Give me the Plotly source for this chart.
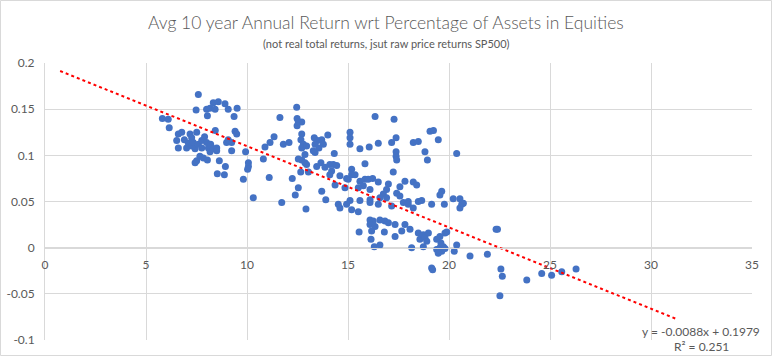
import plotly.graph_objects as go

# Percentage of assets in equities (x) vs avg 10-year annual return (y)
equity_pct = [
    5.81, 6.10, 6.15, 6.52, 6.60, 6.60, 6.77, 6.90, 7.01, 7.10, 7.18, 7.26, 7.26, 7.34, 7.43, 7.43,
    7.48, 7.51, 7.51, 7.59, 7.59, 7.67, 7.76, 7.76, 7.84, 7.90, 8.00, 8.00, 8.04, 8.04, 8.09, 8.17,
    8.17, 8.20, 8.33, 8.33, 8.42, 8.43, 8.50, 8.50, 8.53, 8.58, 8.63, 8.88, 8.91, 8.93, 8.99, 9.07,
    9.07, 9.24, 9.24, 9.36, 9.41, 9.51, 9.49, 9.82, 9.93, 10.07, 10.07, 10.03,
    10.31, 10.81, 10.89, 11.10, 11.14, 11.34, 11.63, 11.72, 11.80, 12.08, 12.24, 12.39, 12.46, 12.48,
    12.54, 12.71, 12.48, 12.71, 12.67, 12.79, 12.71, 12.95, 12.87, 12.54, 12.71, 12.87, 12.95, 12.66,
    13.04, 12.54, 12.92, 13.33, 13.50, 13.70, 13.78, 13.37, 13.56, 13.37, 14.00, 13.28, 14.32, 13.45,
    13.66, 13.86, 14.10, 14.27, 14.44, 14.19, 14.10, 14.60, 14.93, 15.10, 15.10, 15.10, 15.18, 15.01,
    14.36, 14.85, 13.70, 13.90, 15.10, 14.93, 14.52, 14.60, 15.18, 15.51,
    15.59, 16.05, 16.34, 16.50, 17.16, 17.38, 17.28, 17.38, 17.38, 17.41, 17.24, 15.84, 15.18, 15.35,
    18.23, 18.48, 18.81, 18.93, 19.06, 19.23, 19.47, 20.38,
    15.59, 15.84, 16.00, 16.22, 15.76, 15.51, 16.09, 16.50, 17.00, 16.91, 17.57, 17.82, 18.23, 18.40,
    17.41, 17.57, 16.75, 16.58, 16.91, 16.09, 15.59, 17.98, 18.48, 18.65, 19.64, 19.55, 20.21, 20.54,
    20.63, 20.54, 20.71, 19.77,
    16.09, 16.50, 17.16, 17.74, 17.98, 18.23, 19.14,
    16.09, 16.25, 16.09, 16.34, 16.58, 16.17, 16.83, 17.00, 17.33, 17.82, 16.80, 17.33, 17.66, 18.07,
    18.48, 18.56, 18.73, 18.81, 18.90, 18.98, 19.39, 19.55, 19.80, 19.89, 16.14, 16.30, 16.58, 15.55,
    18.15, 18.73, 19.39, 19.55, 19.64, 19.72, 19.47, 20.26, 20.38, 19.60, 19.80, 19.14, 19.19,
    21.04, 21.90, 22.33, 22.40, 22.57, 22.64, 22.52, 23.85, 24.59, 25.08, 25.58, 26.29,
]
avg_return = [
    0.140, 0.139, 0.130, 0.116, 0.123, 0.108, 0.125, 0.117, 0.108, 0.113, 0.123, 0.119, 0.110, 0.114, 0.107, 0.092,
    0.149, 0.125, 0.094, 0.166, 0.112, 0.099, 0.116, 0.108, 0.097, 0.120, 0.150, 0.114, 0.143, 0.095, 0.108, 0.151,
    0.104, 0.112, 0.157, 0.107, 0.150, 0.127, 0.108, 0.105, 0.080, 0.158, 0.094, 0.079, 0.156, 0.088, 0.114, 0.150,
    0.117, 0.114, 0.105, 0.142, 0.126, 0.151, 0.123, 0.074, 0.104, 0.092, 0.088, 0.085,
    0.054, 0.096, 0.109, 0.076, 0.114, 0.120, 0.141, 0.049, 0.112, 0.114, 0.075, 0.057, 0.152, 0.140,
    0.136, 0.136, 0.132, 0.123, 0.117, 0.112, 0.108, 0.110, 0.101, 0.096, 0.095, 0.092, 0.090, 0.082,
    0.082, 0.065, 0.042, 0.119, 0.116, 0.117, 0.112, 0.112, 0.108, 0.103, 0.122, 0.105, 0.102, 0.088,
    0.092, 0.087, 0.090, 0.090, 0.089, 0.083, 0.079, 0.078, 0.075, 0.125, 0.119, 0.112, 0.085, 0.074,
    0.068, 0.065, 0.061, 0.052, 0.051, 0.047, 0.047, 0.043, 0.041, 0.039,
    0.107, 0.109, 0.142, 0.113, 0.114, 0.119, 0.139, 0.104, 0.099, 0.095, 0.082, 0.091, 0.079, 0.079,
    0.114, 0.115, 0.104, 0.095, 0.126, 0.127, 0.117, 0.102,
    0.072, 0.074, 0.074, 0.075, 0.067, 0.065, 0.063, 0.071, 0.069, 0.063, 0.066, 0.072, 0.071, 0.068,
    0.059, 0.056, 0.058, 0.054, 0.054, 0.052, 0.051, 0.050, 0.050, 0.051, 0.061, 0.057, 0.053, 0.053,
    0.047, 0.043, 0.048, 0.047,
    0.049, 0.047, 0.045, 0.049, 0.047, 0.043, 0.047,
    0.030, 0.029, 0.025, 0.023, 0.030, 0.018, 0.029, 0.027, 0.025, 0.025, 0.017, 0.012, 0.018, 0.020,
    0.016, 0.009, 0.014, 0.011, 0.007, 0.016, 0.009, 0.012, 0.016, 0.017, 0.009, 0.001, 0.003, 0.017,
    0.000, 0.001, -0.002, 0.000, -0.004, 0.001, -0.006, -0.004, 0.003, 0.005, -0.001, -0.022, -0.024,
    -0.009, -0.007, 0.020, 0.020, -0.023, -0.031, -0.052, -0.035, -0.028, -0.030, -0.026, -0.023,
]

# Linear trendline (as displayed on chart) and its drawn x extent
trend_slope = -0.0088
trend_intercept = 0.1979
trend_x = [0.75, 31.2]
trend_y = [trend_slope * v + trend_intercept for v in trend_x]

x_tickvals = [0, 5, 10, 15, 20, 25, 30, 35]
x_ticktext = ["0", "5", "10", "15", "20", "25", "30", "35"]
y_tickvals = [-0.1, -0.05, 0, 0.05, 0.1, 0.15, 0.2]
y_ticktext = ["-0.1", "-0.05", "0", "0.05", "0.1", "0.15", "0.2"]

title_text = "Avg 10 year Annual Return wrt Percentage of Assets in Equities"
subtitle_text = "(not real total returns, jsut raw price returns SP500)"
eq_text = "y = -0.0088x + 0.1979"
r2_text = "R² = 0.251"

FONT = "Lato"
GRAY = "#595959"
GRID = "#D9D9D9"

fig = go.Figure()
fig.add_trace(go.Scatter(
    x=equity_pct, y=avg_return, mode="markers",
    marker=dict(color="#4472C4", size=7, line=dict(width=0)),
    showlegend=False, hoverinfo="x+y",
))
fig.add_trace(go.Scatter(
    x=trend_x, y=trend_y, mode="lines",
    line=dict(color="#FF0000", width=2, dash="dot"),
    showlegend=False, hoverinfo="skip",
))

W, H = 773, 356
ml, mr, mt, mb = 45, 21, 63, 16
pw, ph = W - ml - mr, H - mt - mb

def px_x(p):
    return (p - ml) / pw

def px_y(p):
    return 1 - (p - mt) / ph

fig.update_layout(
    width=W, height=H,
    margin=dict(l=ml, r=mr, t=mt, b=mb, pad=0, autoexpand=False),
    paper_bgcolor="white", plot_bgcolor="white",
    font=dict(family=FONT, color=GRAY, size=12),
    xaxis=dict(
        range=[0, 35], tickvals=x_tickvals, ticktext=x_ticktext,
        showgrid=True, gridcolor=GRID, gridwidth=1,
        zeroline=False, showline=True, linecolor=GRID, linewidth=1,
        anchor="free", position=(0 - (-0.1)) / 0.3,
        ticks="", ticklabelstandoff=6, automargin=False,
        tickfont=dict(family=FONT, size=12, color=GRAY),
    ),
    yaxis=dict(
        range=[-0.1, 0.2], tickvals=y_tickvals, ticktext=y_ticktext,
        showgrid=True, gridcolor=GRID, gridwidth=1,
        zeroline=False, showline=True, linecolor=GRID, linewidth=1,
        ticks="", ticklabelstandoff=7, automargin=False,
        tickfont=dict(family=FONT, size=12, color=GRAY),
    ),
    annotations=[
        dict(text=title_text, xref="paper", yref="paper", x=px_x(386), y=px_y(22),
             showarrow=False, xanchor="center", yanchor="middle",
             font=dict(family=FONT, size=17.5, color=GRAY, weight=300)),
        dict(text=subtitle_text, xref="paper", yref="paper", x=px_x(386), y=px_y(44),
             showarrow=False, xanchor="center", yanchor="middle",
             font=dict(family=FONT, size=11, color=GRAY)),
        dict(text=eq_text, xref="paper", yref="paper", x=px_x(701), y=px_y(331),
             showarrow=False, xanchor="center", yanchor="middle",
             font=dict(family=FONT, size=12, color=GRAY)),
        dict(text=r2_text, xref="paper", yref="paper", x=px_x(701), y=px_y(346),
             showarrow=False, xanchor="center", yanchor="middle",
             font=dict(family=FONT, size=12, color=GRAY)),
    ],
    shapes=[
        dict(type="rect", xref="paper", yref="paper",
             x0=px_x(0.5), x1=px_x(771.5), y0=px_y(355.5), y1=px_y(0.5),
             line=dict(color=GRID, width=1), fillcolor="rgba(0,0,0,0)", layer="below"),
    ],
)

fig.write_html(
    "out.html",
    config={"displayModeBar": False},
    post_script="document.body.style.margin='0';document.body.style.overflow='hidden';",
)
